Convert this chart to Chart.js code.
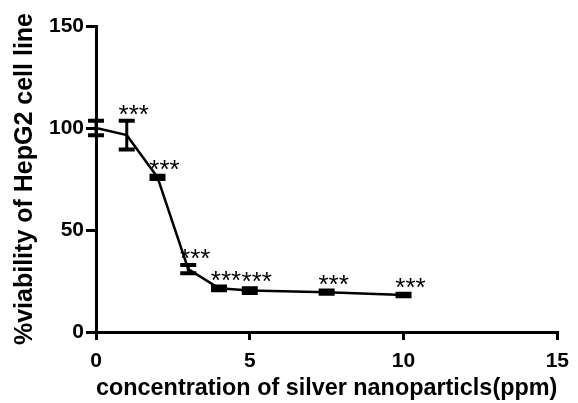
<!DOCTYPE html>
<html>
<head>
<meta charset="utf-8">
<script src="https://cdn.jsdelivr.net/npm/chart.js@4"></script>
<style>
  html, body { margin: 0; padding: 0; background: #fff; }
  #wrap { width: 578px; height: 403px; }
</style>
</head>
<body>
<div id="wrap"><canvas id="myChart" width="578" height="403"></canvas></div>
<script>
// concentration (ppm) and % viability
var concentrations = [0, 1, 2, 3, 4, 5, 7.5, 10];
var viability = [100, 96.5, 75.8, 30.8, 21.4, 20.3, 19.5, 18.1];
var errors = [3.6, 7, 0.8, 2, 0.9, 1.2, 0.8, 0.6];
var stars = ["", "***", "***", "***", "***", "***", "***", "***"];
var xTicks = [0, 5, 10, 15];
var yTicks = [0, 50, 100, 150];

var font = "'Liberation Sans', Arial, sans-serif";

var points = [];
for (var i = 0; i < concentrations.length; i++) {
    points.push({ x: concentrations[i], y: viability[i] });
}

// error bars + asterisks
var errorBars = {
    id: "errorBars",
    afterDatasetsDraw: function (chart) {
        var ctx = chart.ctx;
        var xs = chart.scales.x;
        var ys = chart.scales.y;
        ctx.save();
        ctx.strokeStyle = "#000";
        for (var i = 0; i < concentrations.length; i++) {
            var px = xs.getPixelForValue(concentrations[i]);
            var top = ys.getPixelForValue(viability[i] + errors[i]);
            var bot = ys.getPixelForValue(viability[i] - errors[i]);
            ctx.lineWidth = 3;
            ctx.beginPath();
            ctx.moveTo(px, top);
            ctx.lineTo(px, bot);
            ctx.stroke();
            ctx.lineWidth = 4;
            ctx.beginPath();
            ctx.moveTo(px - 8, top);
            ctx.lineTo(px + 8, top);
            ctx.moveTo(px - 8, bot);
            ctx.lineTo(px + 8, bot);
            ctx.stroke();
            if (stars[i]) {
                ctx.fillStyle = "#000";
                ctx.font = "26px " + font;
                ctx.textAlign = "center";
                ctx.textBaseline = "alphabetic";
                ctx.fillText(stars[i], px + 7, top + 2);
            }
        }
        ctx.restore();
    }
};

var chart = new Chart(document.getElementById("myChart"), {
    type: "scatter",
    data: {
        datasets: [{
            data: points,
            showLine: true,
            borderColor: "#000",
            borderWidth: 2.5,
            pointRadius: 0,
            tension: 0
        }]
    },
    options: {
        responsive: false,
        animation: false,
        layout: { padding: { top: 26, right: 15, left: 0, bottom: 0 } },
        plugins: {
            legend: { display: false },
            tooltip: { enabled: false }
        },
        scales: {
            x: {
                type: "linear",
                min: 0,
                max: 15,
                afterBuildTicks: function (scale) {
                    scale.ticks = xTicks.map(function (v) { return { value: v }; });
                },
                afterFit: function (scale) { scale.height = 71; },
                border: { color: "#000", width: 3 },
                grid: { drawOnChartArea: false, color: "#000", lineWidth: 3, tickLength: 8 },
                ticks: { color: "#000", font: { family: font, size: 21, weight: "bold" }, padding: 9, maxRotation: 0 },
                title: {
                    display: true,
                    text: "concentration of silver nanoparticls(ppm)",
                    color: "#000",
                    font: { family: font, size: 24, weight: "bold" },
                    padding: { top: 0, bottom: 0 }
                }
            },
            y: {
                type: "linear",
                min: 0,
                max: 150,
                afterBuildTicks: function (scale) {
                    scale.ticks = yTicks.map(function (v) { return { value: v }; });
                },
                afterFit: function (scale) { scale.width = 96; },
                border: { color: "#000", width: 3 },
                grid: { drawOnChartArea: false, color: "#000", lineWidth: 3, tickLength: 10 },
                ticks: { color: "#000", font: { family: font, size: 21, weight: "bold" }, padding: 2 },
                title: {
                    display: true,
                    text: "%viability of HepG2 cell line",
                    color: "#000",
                    font: { family: font, size: 25, weight: "bold" },
                    padding: { top: 10, bottom: 4 }
                }
            }
        }
    },
    plugins: [errorBars]
});
</script>
</body>
</html>
